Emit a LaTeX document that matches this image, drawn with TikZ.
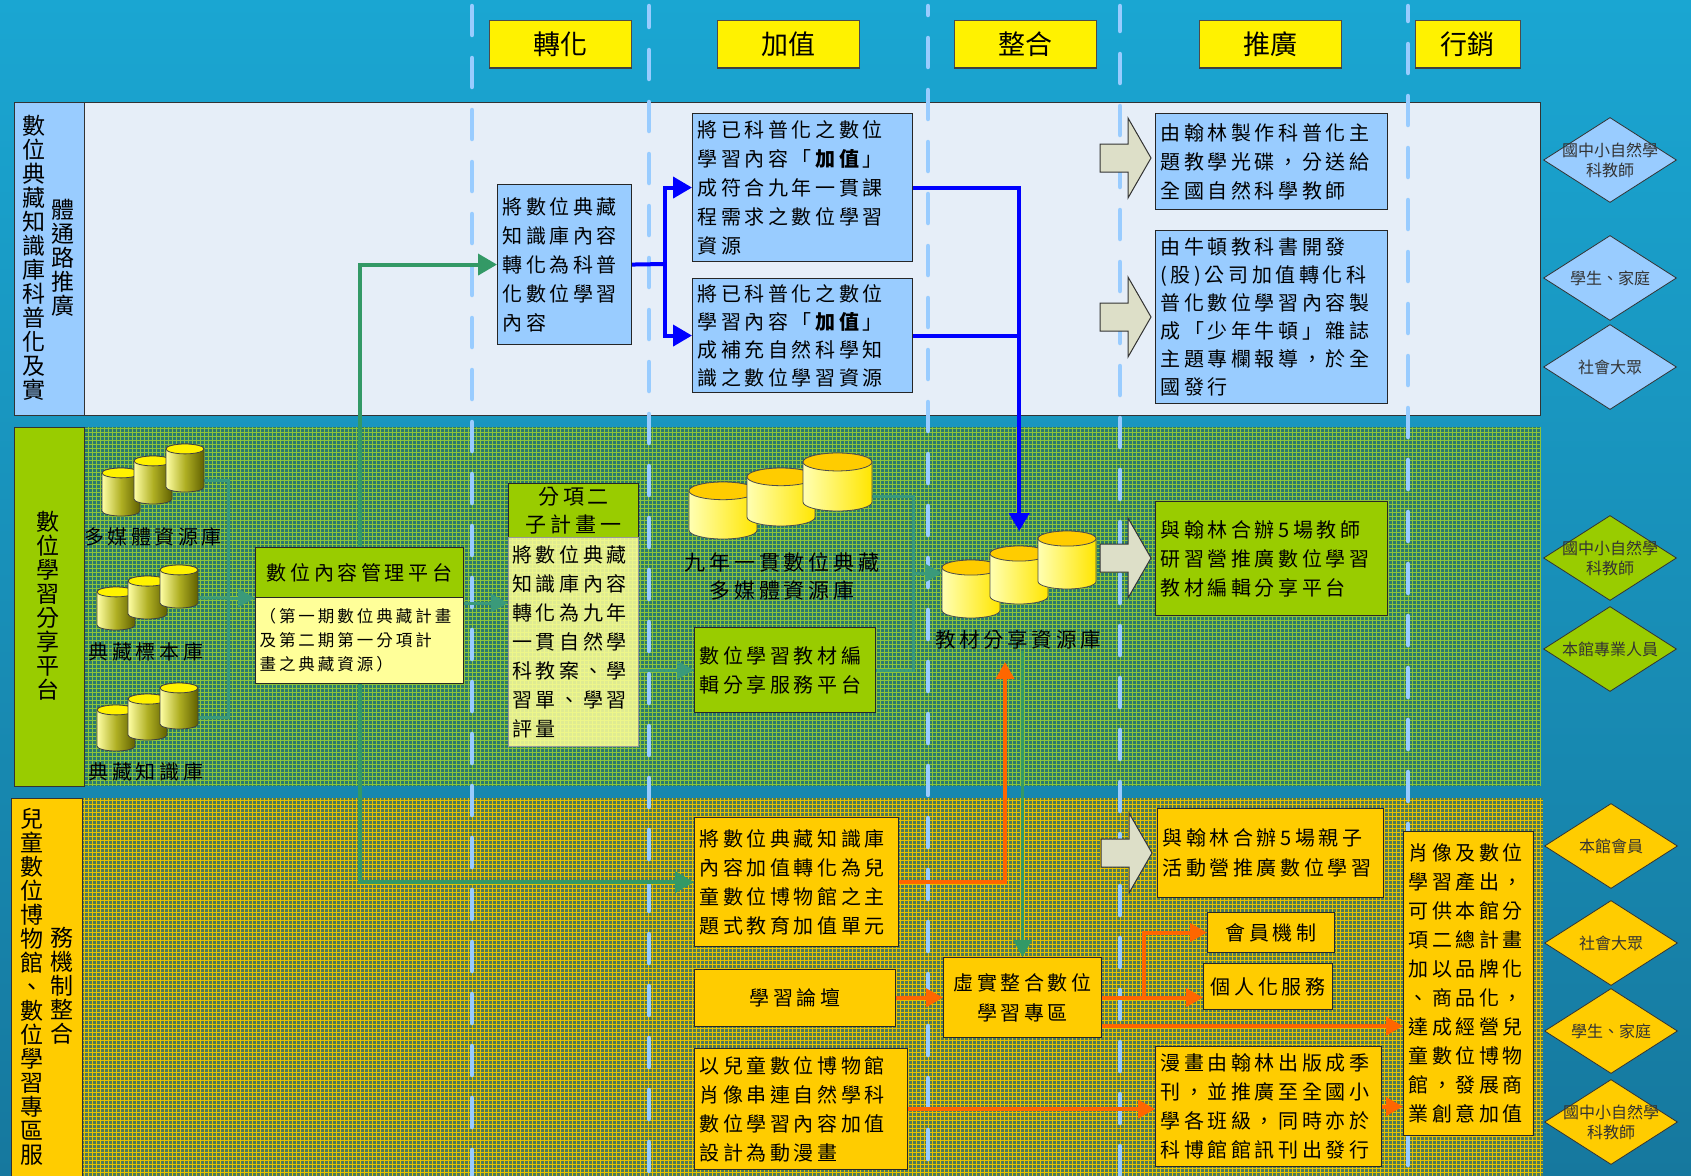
\documentclass[tikz,border=0pt]{standalone}
\usepackage{fontspec}
\setmainfont{Noto Sans CJK TC}
\newfontfamily\kai[LetterSpace=18]{Noto Sans CJK TC}
\usetikzlibrary{arrows.meta,shapes.geometric}
\pgfdeclarelayer{back}
\pgfdeclarelayer{mid}
\pgfsetlayers{back,mid,main}
\definecolor{bgtop}{HTML}{1AA6D2}
\definecolor{bgbot}{HTML}{16789E}
\definecolor{lblue}{HTML}{99CCFF}
\definecolor{pale}{HTML}{E6EEF8}
\definecolor{lgreen}{HTML}{99CC00}
\definecolor{lyel}{HTML}{FFCC00}
\definecolor{pyel}{HTML}{FFFF99}
\definecolor{gafill}{HTML}{DDDFC8}
\definecolor{conngreen}{HTML}{339966}
\definecolor{conntea}{HTML}{3A9A7A}
\definecolor{connorange}{HTML}{FF6600}
\definecolor{dashblue}{HTML}{99CCFF}
\definecolor{tealbase}{HTML}{2A7A6E}
\definecolor{tealbase3}{HTML}{4F7A5A}
\definecolor{gridg}{HTML}{8CC43A}
\definecolor{gridy}{HTML}{E6C200}
\newcommand\cyl[5]{%
  \pgfmathsetmacro\cylrx{#3/2}\pgfmathsetmacro\cylry{#3*0.13}%
  \path[#5] (#1,#2+\cylry) -- (#1,#2+#4-\cylry)
    arc[start angle=180,end angle=360,x radius=\cylrx pt,y radius=\cylry pt]
    -- (#1+#3,#2+\cylry)
    arc[start angle=0,end angle=180,x radius=\cylrx pt,y radius=\cylry pt] -- cycle;
  \path[#5top] (#1+\cylrx,#2+\cylry) ellipse[x radius=\cylrx pt,y radius=\cylry pt];}
\newcommand\garrow[2]{%
  \draw[fill=gafill,draw=black!80,line width=1pt] (#1,#2-14) -- (#1+28,#2-14) -- (#1+28,#2-40)
   -- (#1+51,#2) -- (#1+28,#2+40) -- (#1+28,#2+14) -- (#1,#2+14) -- cycle;}
\begin{document}
\begin{tikzpicture}[x=1pt,y=-1pt,
 box/.style={draw=black!85, line width=1.1pt, anchor=north west, inner xsep=5pt, inner ysep=0pt, align=left, font=\kai\fontsize{20}{29}\selectfont},
 cbox/.style={box, align=center},
 hdr/.style={fill=yellow, draw=black!70, line width=0.8pt, anchor=north west, minimum width=142pt, minimum height=47pt, inner sep=0pt, font=\fontsize{27}{30}\selectfont},
 dia/.style={diamond, draw=black!80, line width=0.8pt, minimum width=133pt, minimum height=85pt, inner sep=0pt},
 diatxt/.style={font=\fontsize{16}{20}\selectfont, text=black!80, align=center},
 lanetxt/.style={align=center, font=\fontsize{23}{24}\selectfont, inner sep=0pt},
 dbl/.style={font=\kai\fontsize{20}{28}\selectfont, align=center, inner sep=1pt},
 grp/.style={anchor=north west, inner sep=0pt},
 panel/.style={anchor=north west, inner sep=0pt, draw=black!80, line width=0.8pt},
 dashln/.style={draw=dashblue, line width=4.5pt, line cap=round, dash pattern=on 29pt off 23pt},
 bconn/.style={draw=blue, line width=4pt},
 gconn/.style={draw=conngreen, line width=4pt},
 tconn/.style={draw=conntea, line width=3pt},
 oconn/.style={draw=connorange, line width=4pt},
 tip/.style={-{Triangle[length=19pt,width=21pt]}},
 stip/.style={-{Triangle[length=17pt,width=18pt]}},
 cylA/.style={draw=black!75, line width=0.8pt, left color=yellow!35!white, right color=olive!75!black},
 cylAtop/.style={draw=black!75, line width=0.8pt, fill=yellow},
 cylB/.style={draw=black!70, line width=0.8pt, left color=yellow!30!white, right color=yellow!80!orange},
 cylBtop/.style={draw=black!70, line width=0.8pt, fill=lyel},
]
\useasboundingbox (0,0) rectangle (1691,1175);
\begin{pgfonlayer}{back}
\shade[top color=bgtop, bottom color=bgbot] (0,0) rectangle (1691,1175);
% lane 1
\node[panel, fill=pale, minimum width=1526pt, minimum height=313pt] (pan1) at (14,102) {};
\node[panel, fill=lblue, minimum width=70pt, minimum height=313pt] (lab1) at (14,102) {};
% lane 2
\begin{scope}
\clip (84,427) rectangle (1541,786);
\fill[tealbase] (84,427) rectangle (1541,786);
\draw[gridg, line width=1pt] (84,427) grid[step=4pt] (1541,786);
\end{scope}
\node[panel, fill=lgreen, minimum width=70pt, minimum height=359pt] (lab2) at (14,427) {};
% lane 3
\begin{scope}
\clip (83,798) rectangle (1543,1180);
\fill[tealbase3] (83,798) rectangle (1543,1180);
\draw[gridy, line width=0.8pt] (83,798) grid[step=4pt] (1543,1180);
\end{scope}
\node[panel, fill=lyel, minimum width=71pt, minimum height=382pt] (lab3) at (11,798) {};
% dashed lines
\foreach \xx/\ph in {472/0, 649/8, 928/20, 1120/4, 1408/14}
  \draw[dashln, dash phase=\ph pt] (\xx,6) -- (\xx,1175);
\end{pgfonlayer}

% lane labels
\node[lanetxt] (l1a) at (34,258) {數\\位\\典\\藏\\知\\識\\庫\\科\\普\\化\\及\\實};
\node[lanetxt] (l1b) at (63,258) {體\\通\\路\\推\\廣};
\node[lanetxt] (l2a) at (48,606) {數\\位\\學\\習\\分\\享\\平\\台};
\node[lanetxt] (l3a) at (32,987) {兒\\童\\數\\位\\博\\物\\館\\、\\數\\位\\學\\習\\專\\區\\服};
\node[lanetxt] (l3b) at (62,986) {務\\機\\制\\整\\合};

% headers
\node[hdr] (hd1) at (489,20) {轉化};
\node[hdr] (hd2) at (717,20) {加值};
\node[hdr] (hd3) at (954,20) {整合};
\node[hdr] (hd4) at (1199,20) {推廣};
\node[hdr, minimum width=105pt] (hd5) at (1415,20) {行銷};
\foreach \h in {hd1,hd2,hd3,hd4,hd5}
  \draw[black!75, line width=2.5pt] (\h.south west) -- (\h.south east);

% lane 1 boxes
\node[box, fill=lblue, minimum width=134pt, minimum height=160pt, text width=124pt] (conv) at (497,184) {將數位典藏\\知識庫內容\\轉化為科普\\化數位學習\\內容};
\node[box, fill=lblue, minimum width=220pt, minimum height=148pt, text width=210pt] (boxA) at (692,113) {將已科普化之數位\\學習內容「\textbf{加值}」\\成符合九年一貫課\\程需求之數位學習\\資源};
\node[box, fill=lblue, minimum width=220pt, minimum height=114pt, text width=210pt, font=\kai\fontsize{20}{28}\selectfont] (boxB) at (692,278) {將已科普化之數位\\學習內容「\textbf{加值}」\\成補充自然科學知\\識之數位學習資源};
\node[box, fill=lblue, minimum width=232pt, minimum height=96pt, text width=222pt] (boxC) at (1155,113) {由翰林製作科普化主\\題教學光碟，分送給\\全國自然科學教師};
\node[box, fill=lblue, minimum width=232pt, minimum height=173pt, text width=222pt, font=\kai\fontsize{20}{28}\selectfont] (boxD) at (1155,230) {由牛頓教科書開發\\(股)公司加值轉化科\\普化數位學習內容製\\成「少年牛頓」雜誌\\主題專欄報導，於全\\國發行};
\garrow{1100}{158}
\garrow{1100}{317}
\node[dia, fill=lblue, label={[diatxt]center:國中小自然學\\科教師}] (d11) at (1610,160) {};
\node[dia, fill=lblue, label={[diatxt]center:學生、家庭}] (d12) at (1610,278) {};
\node[dia, fill=lblue, label={[diatxt]center:社會大眾}] (d13) at (1610,367) {};

% lane 2 databases
\cyl{102}{468}{38}{48}{cylA}
\cyl{134}{456}{38}{48}{cylA}
\cyl{166}{444}{38}{48}{cylA}
\node[grp, minimum width=102pt, minimum height=72pt] (db1) at (102,444) {};
\node[dbl] (db1l) at (153,537) {多媒體資源庫};
\cyl{97}{587}{38}{43}{cylA}
\cyl{128}{576}{39}{43}{cylA}
\cyl{160}{565}{38}{43}{cylA}
\node[grp, minimum width=101pt, minimum height=65pt] (db2) at (97,565) {};
\node[dbl] (db2l) at (146,652) {典藏標本庫};
\cyl{97}{705}{38}{46}{cylA}
\cyl{128}{694}{39}{46}{cylA}
\cyl{160}{683}{38}{46}{cylA}
\node[grp, minimum width=101pt, minimum height=68pt] (db3) at (97,683) {};
\node[dbl] (db3l) at (146,772) {典藏知識庫};

\node[box, fill=lgreen, minimum width=208pt, minimum height=50pt, text width=198pt, align=center, font=\kai\fontsize{20}{26}\selectfont] (mgmt) at (255,547) {數位內容管理平台};
\node[box, fill=pyel, minimum width=208pt, minimum height=86pt, inner xsep=4pt, text width=200pt, font=\kai\fontsize{16.5}{24}\selectfont] (mgmts) at (255,597) {（第一期數位典藏計畫\\及第二期第一分項計\\畫之典藏資源）};

\node[box, fill=lgreen, minimum width=130pt, minimum height=54pt, text width=120pt, align=center, font=\kai\fontsize{21}{28}\selectfont] (sub2h) at (508,483) {分項二\\子計畫一};
\node[box, draw=black!40, line width=0.6pt, fill=pyel, fill opacity=0.85, text opacity=1, minimum width=130pt, minimum height=209pt, inner xsep=4pt, text width=122pt] (sub2) at (508,537) {將數位典藏\\知識庫內容\\轉化為九年\\一貫自然學\\科教案、學\\習單、學習\\評量};

\cyl{689}{482}{68}{57}{cylB}
\cyl{747}{468}{68}{58}{cylB}
\cyl{803}{453}{69}{58}{cylB}
\node[grp, minimum width=183pt, minimum height=86pt] (db4) at (689,453) {};
\node[dbl, font=\kai\fontsize{21}{28}\selectfont] (db4l) at (782,576) {九年一貫數位典藏\\多媒體資源庫};
\node[box, fill=lgreen, minimum width=181pt, minimum height=85pt, text width=171pt] (plat) at (694,627) {數位學習教材編\\輯分享服務平台};

\cyl{942}{560}{58}{58}{cylB}
\cyl{990}{546}{58}{58}{cylB}
\cyl{1038}{531}{58}{58}{cylB}
\node[grp, minimum width=154pt, minimum height=87pt] (db5) at (942,531) {};
\node[dbl, font=\kai\fontsize{20.5}{28}\selectfont] (db5l) at (1018,640) {教材分享資源庫};

\garrow{1100}{558}
\node[box, fill=lgreen, minimum width=232pt, minimum height=114pt, text width=222pt] (boxT) at (1155,501) {與翰林合辦5場教師\\研習營推廣數位學習\\教材編輯分享平台};
\node[dia, fill=lgreen, label={[diatxt]center:國中小自然學\\科教師}] (d21) at (1610,558) {};
\node[dia, fill=lgreen, label={[diatxt]center:本館專業人員}] (d22) at (1610,649) {};

% lane 3 boxes
\node[box, fill=lyel, minimum width=204pt, minimum height=129pt, text width=194pt] (boxE) at (694,817) {將數位典藏知識庫\\內容加值轉化為兒\\童數位博物館之主\\題式教育加值單元};
\node[cbox, fill=lyel, minimum width=201pt, minimum height=57pt, text width=191pt] (boxF) at (694,969) {學習論壇};
\node[box, fill=lyel, minimum width=213pt, minimum height=121pt, text width=203pt] (boxG) at (694,1048) {以兒童數位博物館\\肖像串連自然學科\\數位學習內容加值\\設計為動漫畫};
\node[cbox, fill=lyel, minimum width=158pt, minimum height=80pt, text width=148pt, font=\kai\fontsize{20}{30}\selectfont] (boxH) at (943,957) {虛實整合數位\\學習專區};
\garrow{1101}{853}
\node[box, fill=lyel, minimum width=226pt, minimum height=89pt, text width=216pt, font=\kai\fontsize{20}{30}\selectfont] (boxI) at (1157,808) {與翰林合辦5場親子\\活動營推廣數位學習};
\node[cbox, fill=lyel, minimum width=127pt, minimum height=40pt, text width=117pt] (boxJ) at (1207,912) {會員機制};
\node[cbox, fill=lyel, minimum width=129pt, minimum height=46pt, text width=119pt] (boxK) at (1203,963) {個人化服務};
\node[box, fill=lyel, minimum width=226pt, minimum height=120pt, text width=216pt] (boxL) at (1155,1046) {漫畫由翰林出版成季\\刊，並推廣至全國小\\學各班級，同時亦於\\科博館館訊刊出發行};
\node[box, fill=lyel, minimum width=130pt, minimum height=304pt, text width=120pt] (boxM) at (1403,831) {肖像及數位\\學習產出，\\可供本館分\\項二總計畫\\加以品牌化\\、商品化，\\達成經營兒\\童數位博物\\館，發展商\\業創意加值};
\node[dia, fill=lyel, label={[diatxt]center:本館會員}] (d31) at (1611,846) {};
\node[dia, fill=lyel, label={[diatxt]center:社會大眾}] (d32) at (1611,943) {};
\node[dia, fill=lyel, label={[diatxt]center:學生、家庭}] (d33) at (1611,1031) {};
\node[dia, fill=lyel, label={[diatxt]center:國中小自然學\\科教師}] (d34) at (1611,1122) {};

% connectors
\coordinate (bj) at (665,264);
\coordinate (jx) at (228,598);
\coordinate (j2) at (913,573);
\coordinate (o1) at (1005,662);
\begin{pgfonlayer}{mid}
\draw[bconn] (conv.east) -- (bj);
\draw[bconn, tip] (bj) |- (boxA.west);
\draw[bconn, tip] (bj) |- (boxB.west);
\draw[bconn, -{Triangle[length=18pt,width=20pt]}] (boxA.east) -| (db5.north);
\draw[bconn] (boxB.east) -- (boxB.east -| db5.north);
\draw[gconn, tip] (mgmt.north) |- (conv.west);
\draw[gconn, tip] (mgmts.south) |- (boxE.west);
\draw[tconn] (db1.east) -| (jx) |- (db3.east);
\draw[tconn] (db2.east) -- (jx);
\draw[tconn, stip] (jx) -- (jx -| mgmt.west);
\draw[tconn, stip] (mgmts.north east) ++(0,6) coordinate (m1) -- (m1 -| sub2.west);
\draw[tconn, stip] (sub2.east |- plat.west) -- (plat.west);
\draw[tconn] (db4.east) -| (j2) |- (plat.east);
\draw[tconn, stip] (j2) -- (j2 -| db5.west);
\draw[oconn, stip] (boxE.east) -| (o1);
\draw[gconn, line width=3pt, stip] (db5l.south -| boxH.north) -- (boxH.north);
\draw[oconn, stip] (boxF.east) -- (boxH.west);
\draw[oconn, stip] (boxH.east) -- (boxH.east -| boxK.west);
\draw[oconn, stip] (boxH.east) ++(42,0) |- (boxJ.west);
\draw[oconn, stip] ([yshift=12pt]boxH.south east) -- ([yshift=12pt]boxH.south east -| boxM.west);
\draw[oconn, stip] (boxG.east) -- (boxG.east -| boxL.west);
\draw[oconn, stip] (boxL.east) -- (boxL.east -| boxM.west);
\end{pgfonlayer}
\end{tikzpicture}
\end{document}
